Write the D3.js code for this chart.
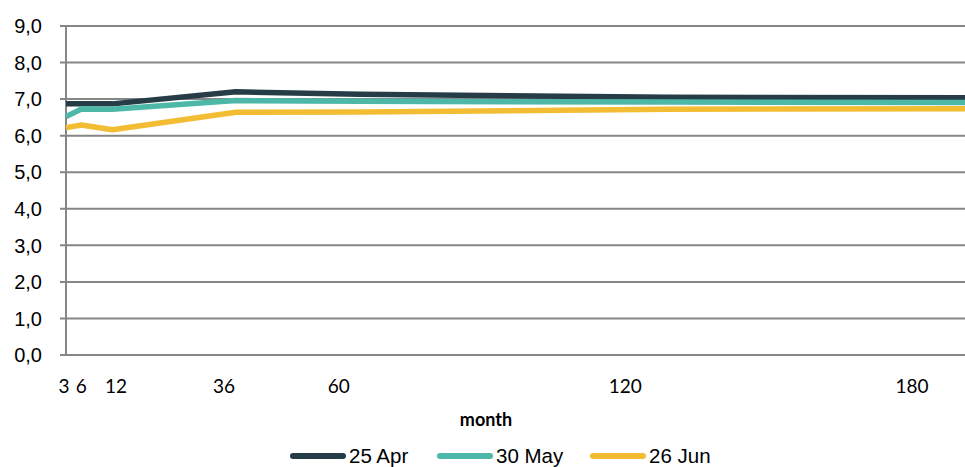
<!DOCTYPE html>
<html>
<head>
<meta charset="utf-8">
<script src="https://cdn.jsdelivr.net/npm/d3@7"></script>
<style>
  html, body { margin: 0; padding: 0; background: #fff; }
  svg { display: block; }
</style>
</head>
<body>
<svg id="chart" width="965" height="467"></svg>
<script>
// Maturities in months and yields (%) for each curve date
const months = [3, 6, 12, 36, 60, 120, 180];
const seriesNames = ["25 Apr", "30 May", "26 Jun"];
const apr25 = [6.87, 6.87, 6.87, 7.20, 7.13, 7.05, 7.04];
const may30 = [6.52, 6.73, 6.72, 6.96, 6.94, 6.92, 6.91];
const jun26 = [6.22, 6.29, 6.16, 6.64, 6.65, 6.72, 6.74];
const yTicks = [0, 1, 2, 3, 4, 5, 6, 7, 8, 9];
const xTickLabels = [3, 6, 12, 36, 60, 120, 180];
const colors = ["#263d47", "#4db8a8", "#f3bd33"];

const svg = d3.select("#chart");
const plot = { left: 66, right: 965, top: 26, bottom: 355 };

const x = d3.scaleLinear().domain([3, 180]).range([plot.left, 977]);
const y = d3.scaleLinear().domain([0, 9]).range([plot.bottom, plot.top]);
// Axis label placement along the month axis
const xLabel = d3.scaleLinear().domain([3, 12, 36, 180]).range([64, 116, 224, 912]);

// Horizontal gridlines with short tick marks left of the axis
svg.append("g").selectAll("line").data(yTicks).join("line")
  .attr("x1", plot.left - 6).attr("x2", plot.right)
  .attr("y1", d => y(d)).attr("y2", d => y(d))
  .attr("stroke", "#868686").attr("stroke-width", 2);

// Vertical axis line
svg.append("line")
  .attr("x1", plot.left).attr("x2", plot.left)
  .attr("y1", plot.top).attr("y2", plot.bottom)
  .attr("stroke", "#868686").attr("stroke-width", 2);

// Y tick labels (comma decimal)
svg.append("g").selectAll("text").data(yTicks).join("text")
  .attr("x", 42).attr("y", d => y(d))
  .attr("dy", "0.36em")
  .attr("text-anchor", "end")
  .attr("font-family", "Liberation Sans, Arial, sans-serif")
  .attr("font-size", 20)
  .attr("fill", "#000")
  .text(d => d.toFixed(1).replace(".", ","));

// X tick labels
svg.append("g").selectAll("text").data(xTickLabels).join("text")
  .attr("x", d => xLabel(d)).attr("y", 393)
  .attr("text-anchor", "middle")
  .attr("font-family", "Lato, sans-serif")
  .attr("font-size", 19)
  .attr("fill", "#000")
  .text(d => d);

svg.append("text")
  .attr("x", 486).attr("y", 426)
  .attr("text-anchor", "middle")
  .attr("font-family", "Lato, sans-serif")
  .attr("font-weight", "bold")
  .attr("font-size", 18)
  .attr("fill", "#000")
  .text("month");

// Curves
const series = [apr25, may30, jun26];
const line = d3.line()
  .x((d, i) => x(months[i]))
  .y(d => y(d));

svg.append("g").selectAll("path").data(series).join("path")
  .attr("d", d => line(d))
  .attr("fill", "none")
  .attr("stroke", (d, i) => colors[i])
  .attr("stroke-width", 5.5)
  .attr("stroke-linejoin", "round");

// Legend
const legendItems = [
  { name: seriesNames[0], color: colors[0], x0: 293 },
  { name: seriesNames[1], color: colors[1], x0: 440 },
  { name: seriesNames[2], color: colors[2], x0: 593 }
];
const lg = svg.append("g");
legendItems.forEach(item => {
  lg.append("line")
    .attr("x1", item.x0).attr("x2", item.x0 + 50)
    .attr("y1", 456).attr("y2", 456)
    .attr("stroke", item.color).attr("stroke-width", 6)
    .attr("stroke-linecap", "round");
  lg.append("text")
    .attr("x", item.x0 + 56).attr("y", 463)
    .attr("font-family", "Liberation Sans, Arial, sans-serif")
    .attr("font-size", 20.5)
    .attr("fill", "#000")
    .text(item.name);
});
</script>
</body>
</html>
